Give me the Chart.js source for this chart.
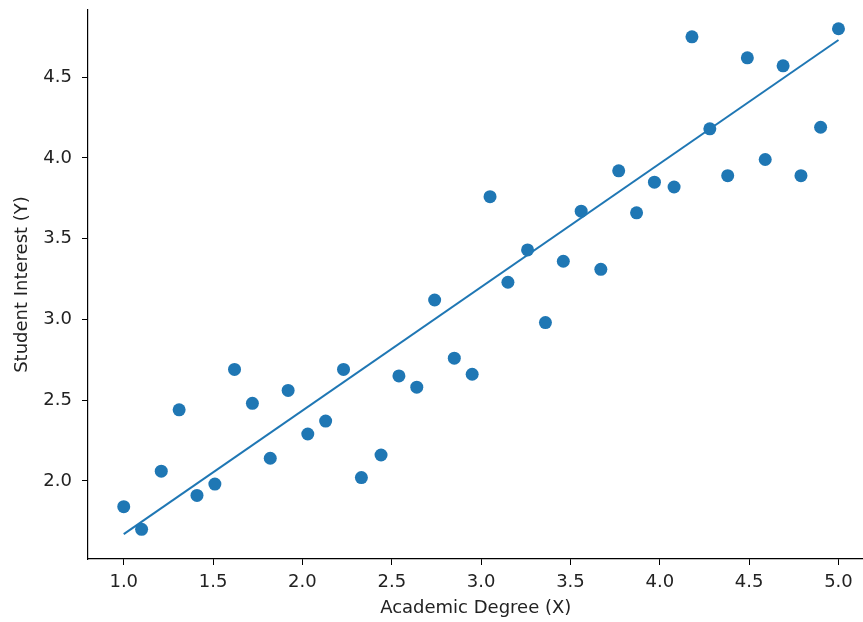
<!DOCTYPE html>
<html>
<head>
<meta charset="utf-8">
<script src="https://cdn.jsdelivr.net/npm/chart.js@4"></script>
<style>
  html, body { margin: 0; padding: 0; background: #fff; overflow: hidden; }
  #wrap { width: 870px; height: 622px; }
</style>
</head>
<body>
<div id="wrap"><canvas id="scatterChart"></canvas></div>
<script>
// Academic degree (x) and student interest (y)
const degree = [1.00, 1.10, 1.21, 1.31, 1.41, 1.51, 1.62, 1.72, 1.82, 1.92,
  2.03, 2.13, 2.23, 2.33, 2.44, 2.54, 2.64, 2.74, 2.85, 2.95,
  3.05, 3.15, 3.26, 3.36, 3.46, 3.56, 3.67, 3.77, 3.87, 3.97,
  4.08, 4.18, 4.28, 4.38, 4.49, 4.59, 4.69, 4.79, 4.90, 5.00];
const interest = [1.84, 1.70, 2.06, 2.44, 1.91, 1.98, 2.69, 2.48, 2.14, 2.56,
  2.29, 2.37, 2.69, 2.02, 2.16, 2.65, 2.58, 3.12, 2.76, 2.66,
  3.76, 3.23, 3.43, 2.98, 3.36, 3.67, 3.31, 3.92, 3.66, 3.85,
  3.82, 4.75, 4.18, 3.89, 4.62, 3.99, 4.57, 3.89, 4.19, 4.80];

// Fitted line end points
const fitX = [1.0, 5.0];
const fitY = [1.67, 4.73];

// Tick labels
const xTicks = [1.0, 1.5, 2.0, 2.5, 3.0, 3.5, 4.0, 4.5, 5.0];
const yTicks = [2.0, 2.5, 3.0, 3.5, 4.0, 4.5];

const blue = '#1f77b4';
const font = { family: 'DejaVu Sans', size: 18 };

const points = degree.map((x, i) => ({ x: x, y: interest[i] }));
const fitLine = fitX.map((x, i) => ({ x: x, y: fitY[i] }));

const ctx = document.getElementById('scatterChart').getContext('2d');
new Chart(ctx, {
  type: 'scatter',
  data: {
    datasets: [{
      data: fitLine,
      showLine: true,
      borderColor: blue,
      borderWidth: 2,
      pointRadius: 0,
      fill: false,
      order: 2
    }, {
      data: points,
      backgroundColor: blue,
      borderColor: blue,
      borderWidth: 0,
      pointRadius: 6.5,
      order: 1
    }]
  },
  options: {
    responsive: true,
    maintainAspectRatio: false,
    animation: false,
    layout: { padding: { top: 10, right: 0, left: 0, bottom: 0 } },
    plugins: {
      legend: { display: false },
      tooltip: { enabled: false }
    },
    scales: {
      x: {
        type: 'linear',
        min: 0.8,
        max: 5.14,
        afterBuildTicks: (scale) => {
          scale.ticks = xTicks.map((v) => ({ value: v }));
        },
        afterFit: (scale) => {
          scale.height = 63;
          scale.paddingLeft = 0;
          scale.paddingRight = 0;
        },
        ticks: {
          color: '#222',
          font: font,
          padding: 7,
          maxRotation: 0,
          callback: (v) => v.toFixed(1)
        },
        grid: {
          drawOnChartArea: false,
          drawTicks: true,
          tickLength: 6,
          color: '#000'
        },
        border: { display: true, color: '#000', width: 1.2 },
        title: {
          display: true,
          text: 'Academic Degree (X)',
          color: '#222',
          font: font,
          padding: { top: 0, bottom: 3 }
        }
      },
      y: {
        type: 'linear',
        min: 1.516,
        max: 4.916,
        afterBuildTicks: (scale) => {
          scale.ticks = yTicks.map((v) => ({ value: v }));
        },
        afterFit: (scale) => {
          scale.width = 88;
          scale.paddingTop = 0;
          scale.paddingBottom = 0;
        },
        ticks: {
          color: '#222',
          font: font,
          padding: 10,
          callback: (v) => v.toFixed(1)
        },
        grid: {
          drawOnChartArea: false,
          drawTicks: true,
          tickLength: 6,
          color: '#000'
        },
        border: { display: true, color: '#000', width: 1.2 },
        title: {
          display: true,
          text: 'Student Interest (Y)',
          color: '#222',
          font: font,
          padding: { top: 12, bottom: 0 }
        }
      }
    }
  }
});
</script>
</body>
</html>
